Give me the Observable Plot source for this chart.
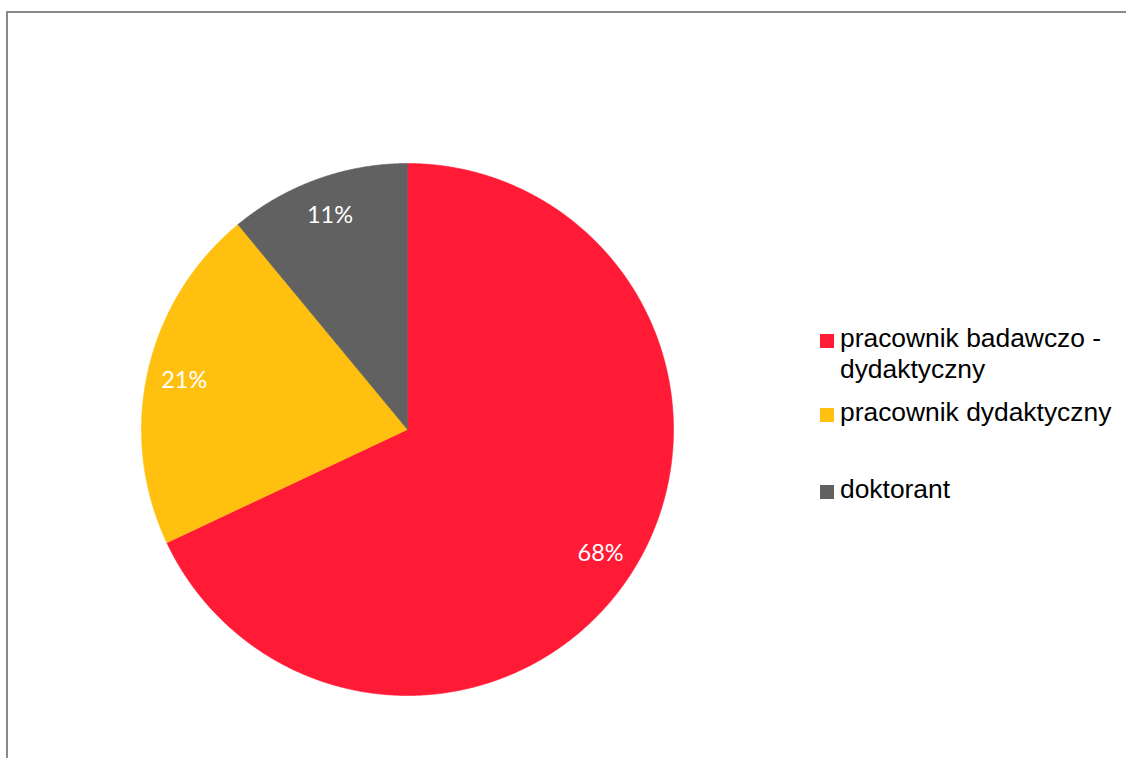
<!DOCTYPE html>
<html>
<head>
<meta charset="utf-8">
<script src="https://cdn.jsdelivr.net/npm/d3@7"></script>
<script src="https://cdn.jsdelivr.net/npm/@observablehq/plot@0.6"></script>
<style>
  html, body { margin: 0; padding: 0; background: #fff; overflow: hidden; }
  #wrap { position: relative; width: 1126px; height: 758px; overflow: hidden; }
  #frame { position: absolute; left: 6px; top: 11px; width: 2000px; height: 2000px; border: 2px solid #898989; box-sizing: border-box; }
  #chart { position: absolute; left: 0; top: 0; }
  .item { position: absolute; left: 820px; font-family: "Liberation Sans", Arial, sans-serif; font-size: 26.4px; line-height: 31px; color: #000; }
  .sw { position: absolute; left: 0; top: 12px; width: 14px; height: 14px; }
  .lbl { position: absolute; left: 20px; width: 286px; }
</style>
</head>
<body>
<div id="wrap">
  <div id="frame"></div>
  <div id="chart"></div>
</div>
<script>
// ---- data ----
const categories = ["pracownik badawczo - dydaktyczny", "pracownik dydaktyczny", "doktorant"];
const values = [68, 21, 11];
const labels = ["68%", "21%", "11%"];
const colors = ["#FF1A35", "#FFC010", "#616161"];

// ---- layout ----
const W = 1126, H = 758, CX = 407, CY = 429, R = 266;
const legendBaselines = [348, 422, 499];
const FS = 26.4, LH = 31;

const total = d3.sum(values);
let acc = 0;
const slices = categories.map((c, i) => {
  const a0 = acc / total * 2 * Math.PI;
  acc += values[i];
  const a1 = acc / total * 2 * Math.PI;
  return {cat: c, value: values[i], label: labels[i], color: colors[i], a0, a1};
});

// polygon outline of each sector (unit circle, angle clockwise from 12 o'clock)
const polys = slices.map(s => {
  const pts = [{x: 0, y: 0}];
  const n = Math.max(2, Math.ceil((s.a1 - s.a0) / (Math.PI / 720)));
  for (let k = 0; k <= n; k++) {
    const a = s.a0 + (s.a1 - s.a0) * k / n;
    pts.push({x: Math.sin(a), y: Math.cos(a)});
  }
  pts.push({x: 0, y: 0});
  return pts;
});

const labelPts = slices.map(s => {
  const m = (s.a0 + s.a1) / 2;
  return {x: 0.86 * Math.sin(m), y: 0.86 * Math.cos(m), text: s.label};
});

const plot = Plot.plot({
  width: W,
  height: H,
  margin: 0,
  x: {domain: [-CX / R, (W - CX) / R], range: [0, W], axis: null},
  y: {domain: [-(H - CY) / R, CY / R], range: [H, 0], axis: null},
  style: {background: "transparent", overflow: "visible"},
  marks: [
    ...polys.map((p, i) => Plot.line(p, {x: "x", y: "y", fill: slices[i].color, stroke: slices[i].color, strokeWidth: 0.6, curve: "linear"})),
    Plot.text(labelPts, {x: "x", y: "y", dy: 1, text: "text", fill: "white", fontSize: 23.5, fontFamily: "Lato, 'Open Sans', sans-serif", textAnchor: "middle"})
  ]
});
document.getElementById("chart").appendChild(plot);

// ---- legend ----
const wrap = document.getElementById("wrap");
const baselineOffset = (LH - FS * 1.117) / 2 + FS * 0.905;
slices.forEach((s, i) => {
  const item = document.createElement("div");
  item.className = "item";
  item.style.top = (legendBaselines[i] - baselineOffset) + "px";
  const sw = document.createElement("span");
  sw.className = "sw";
  sw.style.top = (baselineOffset - 13.5) + "px";
  sw.style.background = s.color;
  const lbl = document.createElement("span");
  lbl.className = "lbl";
  lbl.textContent = s.cat;
  item.appendChild(sw);
  item.appendChild(lbl);
  wrap.appendChild(item);
});
</script>
</body>
</html>
